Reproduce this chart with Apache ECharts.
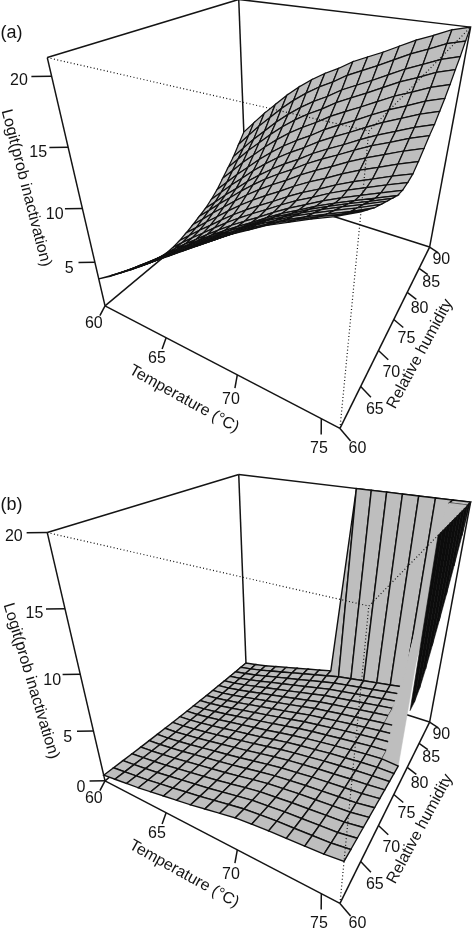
<!DOCTYPE html>
<html>
<head>
    <meta charset="utf-8">
    <title>Logit(prob inactivation)</title>
    <style>
        html, body { margin: 0; padding: 0; background: #fff; }
        #main { width: 472px; height: 930px; }
    </style>
</head>
<body>
<div id="main"></div>
<script src="https://cdn.jsdelivr.net/npm/echarts@6/dist/echarts.min.js"></script>
<script type="text/javascript">
    // grid of the fitted surfaces
    var temps = [60, 61, 62, 63, 64, 65, 66, 67, 68, 69, 70, 71, 72, 73, 74, 75, 76];
    var humidity = [60, 61.5, 63, 64.5, 66, 67.5, 69, 70.5, 72, 73.5, 75, 76.5, 78, 79.5, 81, 82.5, 84, 85.5, 87, 88.5, 90];

    // panel (a), one row per temperature
    var logitA = [
        [3.3, 2.8, 2.3, 1.85, 1.4, 1, 0.75, 0.6, 0.6, 0.75, 1, 1.3, 1.65, 2, 2.5, 3.1, 3.9, 4.7, 5.5, 6.5, 7.5],
        [4.13, 3.7, 3.28, 2.9, 2.53, 2.19, 1.91, 1.74, 1.72, 1.85, 2.08, 2.42, 2.82, 3.2, 3.75, 4.37, 5.2, 6.03, 6.84, 7.86, 8.87],
        [5.04, 4.63, 4.22, 3.86, 3.52, 3.21, 2.94, 2.78, 2.79, 2.94, 3.21, 3.59, 4.02, 4.43, 5.01, 5.67, 6.51, 7.37, 8.2, 9.22, 10.24],
        [5.94, 5.55, 5.15, 4.81, 4.48, 4.19, 3.93, 3.79, 3.81, 3.97, 4.27, 4.69, 5.14, 5.57, 6.18, 6.85, 7.7, 8.57, 9.42, 10.46, 11.47],
        [6.91, 6.52, 6.14, 5.81, 5.49, 5.2, 4.95, 4.82, 4.86, 5.04, 5.37, 5.81, 6.29, 6.75, 7.37, 8.06, 8.91, 9.8, 10.65, 11.7, 12.71],
        [7.88, 7.5, 7.11, 6.79, 6.48, 6.2, 5.94, 5.82, 5.87, 6.05, 6.41, 6.87, 7.36, 7.82, 8.47, 9.16, 10.02, 10.91, 11.76, 12.8, 13.8],
        [8.84, 8.45, 8.06, 7.75, 7.44, 7.14, 6.88, 6.76, 6.82, 7, 7.36, 7.84, 8.35, 8.81, 9.46, 10.16, 11.01, 11.9, 12.74, 13.78, 14.76],
        [9.79, 9.39, 8.99, 8.67, 8.35, 8.05, 7.77, 7.64, 7.7, 7.87, 8.25, 8.73, 9.24, 9.71, 10.35, 11.04, 11.87, 12.76, 13.59, 14.62, 15.58],
        [10.74, 10.32, 9.91, 9.57, 9.24, 8.93, 8.63, 8.49, 8.54, 8.7, 9.07, 9.55, 10.06, 10.51, 11.15, 11.82, 12.64, 13.51, 14.32, 15.33, 16.27],
        [11.7, 11.27, 10.85, 10.51, 10.16, 9.83, 9.52, 9.38, 9.42, 9.58, 9.96, 10.45, 10.96, 11.41, 12.04, 12.71, 13.51, 14.37, 15.17, 16.17, 17.09],
        [12.65, 12.2, 11.77, 11.4, 11.04, 10.7, 10.38, 10.21, 10.24, 10.38, 10.75, 11.24, 11.74, 12.17, 12.8, 13.44, 14.22, 15.06, 15.84, 16.81, 17.71],
        [13.46, 13, 12.55, 12.18, 11.82, 11.45, 11.11, 10.94, 10.96, 11.09, 11.47, 11.96, 12.46, 12.88, 13.5, 14.14, 14.9, 15.74, 16.49, 17.45, 18.32],
        [14.28, 13.82, 13.35, 12.98, 12.6, 12.23, 11.88, 11.7, 11.73, 11.85, 12.24, 12.73, 13.22, 13.65, 14.25, 14.89, 15.63, 16.46, 17.2, 18.15, 19.01],
        [14.97, 14.5, 14.03, 13.66, 13.29, 12.91, 12.55, 12.37, 12.4, 12.52, 12.92, 13.42, 13.93, 14.35, 14.97, 15.59, 16.34, 17.17, 17.9, 18.84, 19.69],
        [15.64, 15.16, 14.69, 14.31, 13.93, 13.55, 13.18, 12.99, 13.01, 13.13, 13.52, 14.03, 14.54, 14.96, 15.58, 16.19, 16.93, 17.75, 18.48, 19.41, 20.24],
        [16.26, 15.78, 15.3, 14.92, 14.55, 14.16, 13.79, 13.6, 13.62, 13.74, 14.15, 14.66, 15.17, 15.59, 16.2, 16.83, 17.55, 18.38, 19.09, 20.02, 20.84],
        [17, 16.5, 16, 15.6, 15.2, 14.8, 14.4, 14.2, 14.2, 14.3, 14.7, 15.2, 15.7, 16.1, 16.7, 17.3, 18, 18.8, 19.5, 20.4, 21.2]
    ];

    // panel (b), one row per temperature
    var logitB = [
        [0.6, 0.54, 0.49, 0.43, 0.38, 0.34, 0.3, 0.26, 0.22, 0.19, 0.16, 0.13, 0.11, 0.09, 0.08, 0.07, 0.06, 0.05, 0.05, 0.05, 0.05],
        [0.8, 0.72, 0.65, 0.58, 0.52, 0.46, 0.41, 0.36, 0.33, 0.29, 0.26, 0.24, 0.22, 0.21, 0.2, 0.2, 0.21, 0.21, 0.23, 0.25, 0.25],
        [1, 0.91, 0.83, 0.76, 0.7, 0.63, 0.58, 0.54, 0.5, 0.46, 0.44, 0.42, 0.4, 0.4, 0.4, 0.41, 0.42, 0.44, 0.47, 0.5, 0.5],
        [1.2, 1.11, 1.03, 0.95, 0.89, 0.82, 0.77, 0.73, 0.69, 0.66, 0.64, 0.63, 0.62, 0.62, 0.63, 0.65, 0.68, 0.71, 0.75, 0.8, 0.8],
        [1.45, 1.35, 1.26, 1.18, 1.12, 1.05, 0.99, 0.95, 0.91, 0.88, 0.87, 0.86, 0.86, 0.86, 0.88, 0.91, 0.95, 0.99, 1.04, 1.1, 1.1],
        [1.7, 1.59, 1.5, 1.41, 1.34, 1.27, 1.22, 1.17, 1.13, 1.11, 1.09, 1.09, 1.09, 1.1, 1.13, 1.16, 1.21, 1.26, 1.33, 1.4, 1.4],
        [1.95, 1.84, 1.73, 1.64, 1.57, 1.49, 1.43, 1.39, 1.35, 1.33, 1.32, 1.31, 1.32, 1.34, 1.38, 1.42, 1.47, 1.54, 1.61, 1.7, 1.7],
        [2.2, 2.08, 1.97, 1.88, 1.8, 1.72, 1.66, 1.62, 1.59, 1.56, 1.54, 1.55, 1.56, 1.58, 1.62, 1.68, 1.74, 1.81, 1.9, 2, 2],
        [2.5, 2.37, 2.25, 2.15, 2.06, 1.98, 1.92, 1.87, 1.84, 1.81, 1.79, 1.8, 1.81, 1.84, 1.88, 1.94, 2.01, 2.09, 2.19, 2.3, 2.3],
        [2.8, 2.66, 2.53, 2.43, 2.33, 2.24, 2.17, 2.13, 2.09, 2.06, 2.04, 2.05, 2.07, 2.09, 2.14, 2.21, 2.29, 2.37, 2.48, 2.6, 20],
        [3.1, 2.94, 2.8, 2.68, 2.58, 2.47, 2.4, 2.34, 2.29, 2.26, 2.24, 2.25, 2.26, 2.28, 2.33, 2.4, 2.48, 2.56, 2.68, 2.8, 20],
        [3.25, 3.1, 2.95, 2.84, 2.74, 2.63, 2.56, 2.51, 2.46, 2.43, 2.42, 2.42, 2.44, 2.47, 2.52, 2.59, 2.67, 2.76, 2.87, 3, 20],
        [3.4, 3.25, 3.11, 3, 2.9, 2.8, 2.73, 2.68, 2.64, 2.61, 2.59, 2.6, 2.62, 2.65, 2.7, 2.78, 2.86, 2.95, 3.07, 3.2, 20],
        [3.5, 3.35, 3.22, 3.11, 3.02, 2.92, 2.86, 2.81, 2.78, 2.75, 2.75, 2.76, 2.79, 2.82, 2.88, 2.96, 3.05, 3.14, 3.27, 3.4, 20],
        [3.6, 3.46, 3.33, 3.23, 3.14, 3.05, 2.99, 2.95, 2.92, 2.9, 2.9, 2.92, 2.95, 2.99, 3.05, 3.14, 3.23, 3.33, 3.46, 3.6, 20],
        [3.7, 3.57, 3.44, 3.34, 3.25, 3.16, 3.1, 3.05, 3.02, 3, 3, 3.03, 3.07, 3.12, 3.2, 6.5, 11, 16, 20, 20, 20],
        [3.9, 3.8, 3.7, 3.6, 3.5, 3.4, 3.3, 3.2, 3.1, 3, 2.9, 20, 20, 20, 20, 20, 20, 20, 20, 20, 20]
    ];

    // the nearly edge-on dark sheet at the hot end of panel (b)
    var sheetRH = [76.5, 78, 79.5, 81, 82.5, 84, 85.5, 87, 88.5, 90];
    var sheetLow = [7.3, 7.4, 8, 9.1, 10.6, 12.2, 13.9, 15.8, 17.8, 20];

    var tickT = [60, 65, 70, 75];
    var tickRH = [60, 65, 70, 75, 80, 85, 90];
    var tickZA = [5, 10, 15, 20];
    var tickZB = [0, 5, 10, 15, 20];

    var zRangeA = [0.4, 21.2];
    var zRangeB = [0, 20];
    var tRange = [60, 76];
    var rhRange = [60, 90];

    // where the corners of the box land on the page: [u, v, w, x, y]
    var boxCorners = [
        [0, 0, 0, 105.5, 308], [1, 0, 0, 339.5, 427], [1, 1, 0, 429.5, 249], [0, 1, 0, 246, 186],
        [0, 0, 1, 47, 57.5], [1, 0, 1, 369, 129], [1, 1, 1, 471, 27], [0, 1, 1, 238.5, 0.5]
    ];

    var FONT = '16px "Liberation Sans", Arial, sans-serif';
    var TAG_FONT = '18px "Liberation Sans", Arial, sans-serif';
    var INK = '#141414';

    // least squares fit of the perspective camera through the box corners
    function fitCamera(corners) {
        var n = 11, A = [], b = [], i, j, k;
        for (i = 0; i < n; i++) {
            A.push(new Array(n).fill(0));
            b.push(0);
        }
        function addRow(r, y) {
            for (var p = 0; p < n; p++) {
                for (var q = 0; q < n; q++) A[p][q] += r[p] * r[q];
                b[p] += r[p] * y;
            }
        }
        corners.forEach(function (c) {
            var u = c[0], v = c[1], w = c[2], X = c[3], Y = c[4];
            addRow([u, v, w, 1, 0, 0, 0, 0, -X * u, -X * v, -X * w], X);
            addRow([0, 0, 0, 0, u, v, w, 1, -Y * u, -Y * v, -Y * w], Y);
        });
        for (i = 0; i < n; i++) {
            var best = i;
            for (k = i + 1; k < n; k++) if (Math.abs(A[k][i]) > Math.abs(A[best][i])) best = k;
            var t = A[i]; A[i] = A[best]; A[best] = t;
            t = b[i]; b[i] = b[best]; b[best] = t;
            for (k = i + 1; k < n; k++) {
                var f = A[k][i] / A[i][i];
                for (j = i; j < n; j++) A[k][j] -= f * A[i][j];
                b[k] -= f * b[i];
            }
        }
        var m = new Array(n).fill(0);
        for (i = n - 1; i >= 0; i--) {
            var s = b[i];
            for (j = i + 1; j < n; j++) s -= A[i][j] * m[j];
            m[i] = s / A[i][i];
        }
        return m;
    }
    var cam = fitCamera(boxCorners);

    function project(t, rh, z, zr) {
        var u = (t - tRange[0]) / (tRange[1] - tRange[0]);
        var v = (rh - rhRange[0]) / (rhRange[1] - rhRange[0]);
        var w = (z - zr[0]) / (zr[1] - zr[0]);
        var d = cam[8] * u + cam[9] * v + cam[10] * w + 1;
        return [(cam[0] * u + cam[1] * v + cam[2] * w + cam[3]) / d,
                (cam[4] * u + cam[5] * v + cam[6] * w + cam[7]) / d];
    }

    function makePanel(gridIndex, logit, zr, tickZ, tag, tagY, zTitle, hasCliff) {
        var base = {type: 'custom', xAxisIndex: gridIndex, yAxisIndex: gridIndex, silent: true,
            animation: false, clip: false, encode: {x: 0, y: 1}};
        var t0 = tRange[0], t1 = tRange[1], r0 = rhRange[0], r1 = rhRange[1], z0 = zr[0], z1 = zr[1];
        var list = [];

        function add(data, renderItem) {
            list.push(Object.assign({}, base, {data: data, renderItem: renderItem}));
        }
        function lines(segs, width, dash) {
            add(segs.map(function (s, i) { return [i, 0]; }), function (params, api) {
                var s = segs[params.dataIndex];
                var a = api.coord(project(s[0], s[1], s[2], zr));
                var b = api.coord(project(s[3], s[4], s[5], zr));
                return {type: 'line', shape: {x1: a[0], y1: a[1], x2: b[0], y2: b[1]},
                    style: {stroke: INK, lineWidth: width, lineDash: dash || null}};
            });
        }
        function labels(items) {
            add(items.map(function (s, i) { return [i, 0]; }), function (params, api) {
                var s = items[params.dataIndex];
                var a = api.coord(project(s[0], s[1], s[2], zr));
                return {type: 'text', style: {x: a[0], y: a[1], text: s[3], font: FONT, fill: INK,
                    textAlign: 'center', textVerticalAlign: 'middle'}};
            });
        }

        // back of the box
        lines([
            [t0, r0, z1, t0, r1, z1], [t0, r1, z1, t1, r1, z1], [t0, r1, z0, t0, r1, z1],
            [t0, r0, z0, t0, r1, z0], [t0, r1, z0, t1, r1, z0]
        ], 1.5);

        // surface, painted from the far corner to the near one
        var cells = [];
        for (var i = 0; i < temps.length - 1; i++) {
            for (var j = humidity.length - 2; j >= 0; j--) cells.push([i, j]);
        }
        add(cells, function (params, api) {
            var c = cells[params.dataIndex], i = c[0], j = c[1];
            var zs = [logit[i][j], logit[i + 1][j], logit[i + 1][j + 1], logit[i][j + 1]];
            var pts = [[i, j], [i + 1, j], [i + 1, j + 1], [i, j + 1]].map(function (p) {
                return api.coord(project(temps[p[0]], humidity[p[1]], logit[p[0]][p[1]], zr));
            });
            // the cliff faces carry no grid lines in the reference
            var lo = Math.min.apply(null, zs), hi = Math.max.apply(null, zs);
            var bare = hasCliff && j < humidity.length - 2 && (hi - lo > 2.5 || lo >= 19.9);
            return {type: 'polygon', shape: {points: pts},
                style: {fill: '#bebebe', stroke: bare ? '#bebebe' : '#101010', lineWidth: bare ? 0.5 : (hasCliff ? 1.4 : 1.25)}};
        });

        if (hasCliff) {
            add(sheetRH.slice(1).map(function (r, i) { return [i, 0]; }), function (params, api) {
                var k = params.dataIndex;
                var pts = [
                    project(t1, sheetRH[k], sheetLow[k], zr), project(t1, sheetRH[k + 1], sheetLow[k + 1], zr),
                    project(t1, sheetRH[k + 1], z1, zr), project(t1, sheetRH[k], z1, zr)
                ].map(function (p) { return api.coord(p); });
                return {type: 'polygon', shape: {points: pts}, style: {fill: '#0c0c0c', stroke: '#0c0c0c', lineWidth: 0.6}};
            });
        }

        // hidden edges of the box show through as dots
        lines([[t0, r0, z1, t1, r0, z1], [t1, r0, z1, t1, r1, z1], [t1, r0, z0, t1, r0, z1]], 1.2, [1, 2.4]);

        // outer edges and ticks
        var segs = [[t0, r0, z0, t1, r0, z0], [t1, r0, z0, t1, r1, z0], [t0, r0, z0, t0, r0, z1], [t1, r1, z0, t1, r1, z1]];
        var text = [];
        tickT.forEach(function (v) {
            segs.push([v, r0, z0, v + 0.35, r0 - 1.38, z0]);
            text.push([v + 0.55, r0 - 2.6, z0, String(v)]);
        });
        tickRH.forEach(function (v) {
            segs.push([t1, v, z0, t1 + 0.69, v - 0.6, z0]);
            // perspective stretches the offset near the front corner
            var drop = v === 60 ? 0.9 : (v === 65 ? 1.6 : 1.9);
            text.push([t1 + 1.1, v - drop, z0, String(v)]);
        });
        tickZ.forEach(function (v) {
            segs.push([t0, r0, v, t0 - 0.82, r0 - 0.94, v]);
            text.push([t0 - 0.85, r0 - 2.15, v, String(v)]);
        });
        lines(segs, 1.5);
        labels(text);

        // axis titles and the panel tag, placed by hand like the reference
        var titles = [
            ['Temperature (\u00b0C)', 184, 399, -29, FONT],
            ['Relative humidity', 420, 354, 61.6, FONT],
            ['Logit(prob inactivation)', zTitle[0], zTitle[1], zTitle[2], FONT],
            [tag, 11.5, tagY, 0, TAG_FONT]
        ];
        add(titles.map(function (s, i) { return [i, 0]; }), function (params, api) {
            var s = titles[params.dataIndex];
            var a = api.coord([s[1], s[2]]);
            return {type: 'text', x: a[0], y: a[1], rotation: s[3] * Math.PI / 180,
                style: {x: 0, y: 0, text: s[0], font: s[4], fill: INK, textAlign: 'center', textVerticalAlign: 'middle'}};
        });
        return list;
    }

    var series = makePanel(0, logitA, zRangeA, tickZA, '(a)', 33, [26, 188, -75.5], false)
        .concat(makePanel(1, logitB, zRangeB, tickZB, '(b)', 30, [31, 206, -73.3], true));

    var myChart = echarts.init(document.getElementById('main'));
    var option = {
        backgroundColor: '#fff',
        animation: false,
        tooltip: {show: false},
        grid: [
            {left: 0, right: 0, top: 0, height: 465},
            {left: 0, right: 0, top: 475, height: 455}
        ],
        xAxis: [
            {type: 'value', gridIndex: 0, min: 0, max: 472, show: false},
            {type: 'value', gridIndex: 1, min: 0, max: 472, show: false}
        ],
        yAxis: [
            {type: 'value', gridIndex: 0, min: 0, max: 465, inverse: true, show: false},
            {type: 'value', gridIndex: 1, min: 0, max: 455, inverse: true, show: false}
        ],
        series: series
    };
    myChart.setOption(option);
</script>
</body>
</html>
